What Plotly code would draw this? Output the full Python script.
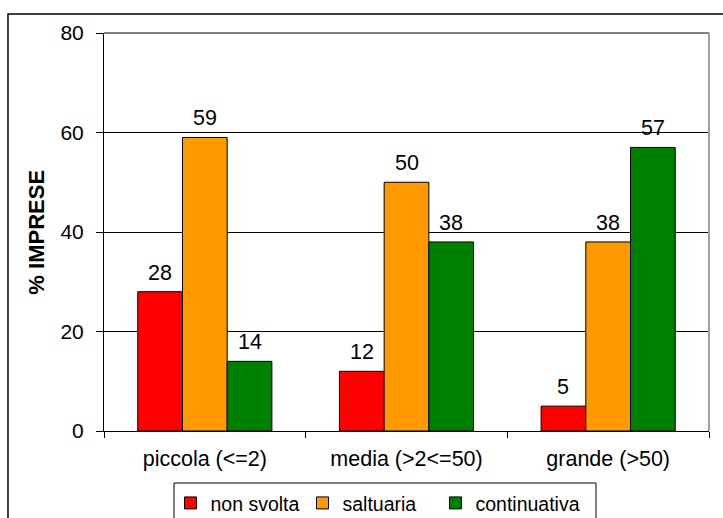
import plotly.graph_objects as go

# Company size classes and the share of firms (%) for each activity level
categories = ["piccola (<=2)", "media (>2<=50)", "grande (>50)"]
series_names = ["non svolta", "saltuaria", "continuativa"]
non_svolta = [28, 12, 5]
saltuaria = [59, 50, 38]
continuativa = [14, 38, 57]
series_values = [non_svolta, saltuaria, continuativa]
series_colors = ["#FF0000", "#FF9900", "#008000"]
y_ticks = [0, 20, 40, 60, 80]

FONT = "Liberation Sans, Arial, sans-serif"
BARGAP = 0.335
n_series = len(series_values)
bar_w = (1 - BARGAP) / n_series

# each series gets its own legend entry, laid out side by side in one box
legend_ids = ["legend", "legend2", "legend3"]
legend_x = [0.1099, 0.3281, 0.5479]

fig = go.Figure()
annotations = []
for s, (name, vals, color) in enumerate(zip(series_names, series_values, series_colors)):
    fig.add_trace(go.Bar(
        name=name,
        x=categories,
        y=vals,
        marker=dict(color=color, line=dict(color="black", width=1)),
        legend=legend_ids[s],
    ))
    # value labels sitting a little above each bar
    offset = (s - (n_series - 1) / 2) * bar_w
    for i, v in enumerate(vals):
        annotations.append(dict(
            x=i + offset, y=v, xref="x", yref="y",
            text=str(v), showarrow=False,
            yanchor="bottom", yshift=5,
            font=dict(family=FONT, size=21.5, color="black"),
        ))

annotations.append(dict(
    text="<b>% IMPRESE</b>",
    xref="paper", yref="paper",
    x=-0.113, y=0.5,
    xanchor="center", yanchor="middle",
    textangle=-90,
    showarrow=False,
    font=dict(family=FONT, size=22, color="black"),
))

legend_style = dict(
    orientation="h",
    y=-0.1325,
    xanchor="left",
    yanchor="top",
    font=dict(family=FONT, size=19.5, color="black"),
    bgcolor="rgba(0,0,0,0)",
    itemwidth=30,
)

fig.update_layout(
    width=723,
    height=518,
    margin=dict(l=104, r=14, t=33, b=87, autoexpand=False),
    paper_bgcolor="white",
    plot_bgcolor="white",
    barmode="group",
    bargap=BARGAP,
    bargroupgap=0,
    font=dict(family=FONT, size=21, color="black"),
    showlegend=True,
    legend=dict(x=legend_x[0], **legend_style),
    legend2=dict(x=legend_x[1], **legend_style),
    legend3=dict(x=legend_x[2], **legend_style),
    xaxis=dict(
        showline=True,
        linecolor="black",
        linewidth=1,
        ticks="outside",
        tickson="boundaries",
        ticklen=6,
        tickcolor="black",
        ticklabelstandoff=8,
        showgrid=False,
        tickfont=dict(family=FONT, size=21.5),
    ),
    yaxis=dict(
        range=[0, 80],
        tickvals=y_ticks,
        ticktext=[str(t) for t in y_ticks],
        showline=True,
        linecolor="black",
        linewidth=1,
        ticks="outside",
        ticklen=7,
        tickcolor="black",
        ticklabelstandoff=8,
        showgrid=True,
        gridcolor="black",
        gridwidth=1,
        zeroline=False,
        tickfont=dict(family=FONT, size=21),
    ),
    annotations=annotations,
    shapes=[
        # grey frame on the top and right of the plotting area
        dict(type="line", xref="paper", yref="paper", x0=0, x1=1, y0=1, y1=1,
             line=dict(color="#808080", width=2)),
        dict(type="line", xref="paper", yref="paper", x0=1, x1=1, y0=0, y1=1,
             line=dict(color="#A0A0A0", width=2)),
        # legend box
        dict(type="rect", xref="paper", yref="paper",
             x0=0.1157, x1=0.8132, y0=-0.1307, y1=-0.25,
             line=dict(color="black", width=1)),
        # outer chart frame
        dict(type="rect", xref="paper", yref="paper",
             x0=-0.1587, x1=1.05, y0=1.0477, y1=-0.26,
             line=dict(color="black", width=1.5)),
    ],
)

fig.write_html("out.html")
